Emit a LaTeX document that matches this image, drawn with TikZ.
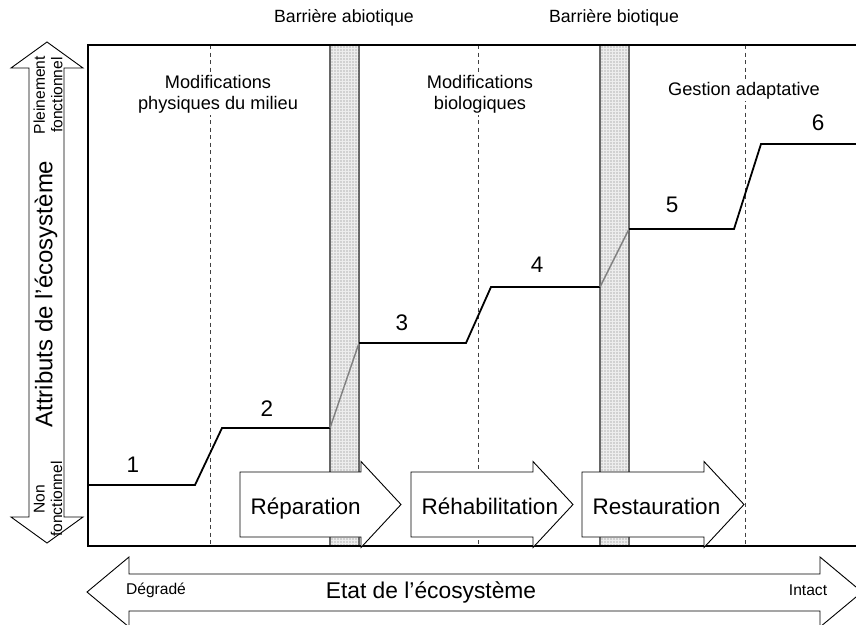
\documentclass[tikz,border=0pt]{standalone}
\usepackage{fontspec}
\setmainfont{Liberation Sans}
\usetikzlibrary{patterns}

% stage arrow: shaft from #1 to #2 (x), centre line y=#3, label node #4 with text #5
\newcommand\stagearrow[5]{%
  \draw[bigarrow] (#1,#3-32.5) -- (#2,#3-32.5) -- (#2,#3-43) -- (#2+40,#3) --
    (#2,#3+43) -- (#2,#3+32.5) -- (#1,#3+32.5) -- cycle;
  \node[stagetext,anchor=base west] (#4) at (#1+10.5,#3+9.5) {#5};
}

\begin{document}
\begin{tikzpicture}[x=1pt,y=-1pt,
  frameline/.style={draw=black,line width=1.2pt},
  barrier/.style={fill=black!18,draw=black!60,line width=1.2pt},
  divider/.style={draw=black!75,line width=0.9pt,dash pattern=on 4pt off 3.5pt},
  stair/.style={draw=black,line width=1.8pt,line join=miter},
  stairbar/.style={draw=black!50,line width=1.4pt},
  bigarrow/.style={draw=black,line width=0.9pt,fill=white,line join=miter},
  stagetext/.style={font=\fontsize{22.5}{26}\selectfont,inner sep=0pt},
  steplabel/.style={font=\fontsize{22.5}{26}\selectfont,inner sep=0pt},
  toplabel/.style={font=\fontsize{17.7}{21}\selectfont,inner sep=0pt},
  zonelabel/.style={font=\fontsize{18.2}{21}\selectfont,align=center,fill=white,inner sep=2pt},
  yaxislabel/.style={font=\fontsize{24}{28}\selectfont,inner sep=0pt},
  xaxislabel/.style={font=\fontsize{22.8}{26}\selectfont,inner sep=0pt},
  endlabel/.style={font=\fontsize{15.6}{17.5}\selectfont,align=center,inner sep=0pt},
]
\useasboundingbox (0,0) rectangle (856,624);
\clip (0,0) rectangle (856,624);

% barrier columns
\path[barrier] (330,45) rectangle (359,546);
\path[barrier] (600,45) rectangle (629,546);
\path[pattern=grid,pattern color=white!60!black!18] (331,46) rectangle (358,545);
\path[pattern=grid,pattern color=white!60!black!18] (601,46) rectangle (628,545);

% zone dividers
\draw[divider] (210,45) -- (210,546);
\draw[divider] (478,45) -- (478,546);
\draw[divider] (745,45) -- (745,546);

% frame
\draw[frameline] (870,45) -- (88,45) -- (88,546) -- (870,546);

% zone titles
\node[zonelabel] (z1) at (218,94) {Modifications\\physiques du milieu};
\node[zonelabel] (z2) at (480,94) {Modifications\\biologiques};
\node[zonelabel] (z3) at (744,91) {Gestion adaptative};
\node[toplabel] (b1) at (344,18) {Barrière abiotique};
\node[toplabel] (b2) at (614,18) {Barrière biotique};

% staircase of states
\coordinate (s0) at (88,485);
\coordinate (s1) at (195,485);
\coordinate (s2) at (222,428);
\coordinate (s3) at (330,428);
\coordinate (s4) at (359,343);
\coordinate (s5) at (466,343);
\coordinate (s6) at (491,287);
\coordinate (s7) at (600,287);
\coordinate (s8) at (629,229);
\coordinate (s9) at (734,229);
\coordinate (s10) at (761,144);
\coordinate (s11) at (870,144);
\draw[stair] (s0) -- (s1) -- (s2) -- (s3);
\draw[stairbar] (s3) -- (s4);
\draw[stair] (s4) -- (s5) -- (s6) -- (s7);
\draw[stairbar] (s7) -- (s8);
\draw[stair] (s8) -- (s9) -- (s10) -- (s11);

\node[steplabel] (n1) at (133,465) {1};
\node[steplabel] (n2) at (267,409) {2};
\node[steplabel] (n3) at (402,323) {3};
\node[steplabel] (n4) at (537,265) {4};
\node[steplabel] (n5) at (672,205) {5};
\node[steplabel] (n6) at (818,123) {6};

% stage arrows
\stagearrow{240}{361}{504.5}{a1}{Réparation}
\stagearrow{411}{533}{504.5}{a2}{Réhabilitation}
\stagearrow{582}{704}{504.5}{a3}{Restauration}

% vertical axis arrow
\draw[bigarrow] (47,42) -- (83,68) -- (64,68) -- (64,517) -- (83,517) -- (47,543) --
  (11,517) -- (29,517) -- (29,68) -- (11,68) -- cycle;
\node[yaxislabel,rotate=90] (ya) at (46,294) {Attributs de l'écosystème};
\node[endlabel,rotate=90] (yt) at (48,95) {Pleinement\\fonctionnel};
\node[endlabel,rotate=90] (yb) at (48,499) {Non\\fonctionnel};

% horizontal axis arrow
\draw[bigarrow] (87,592) -- (129,557) -- (129,574) -- (820,574) -- (820,557) -- (862,592) --
  (820,627) -- (820,611) -- (129,611) -- (129,627) -- cycle;
\node[xaxislabel] (xa) at (431,592) {Etat de l'écosystème};
\node[endlabel] (xl) at (156,590) {Dégradé};
\node[endlabel] (xr) at (808,590) {Intact};
\end{tikzpicture}
\end{document}
